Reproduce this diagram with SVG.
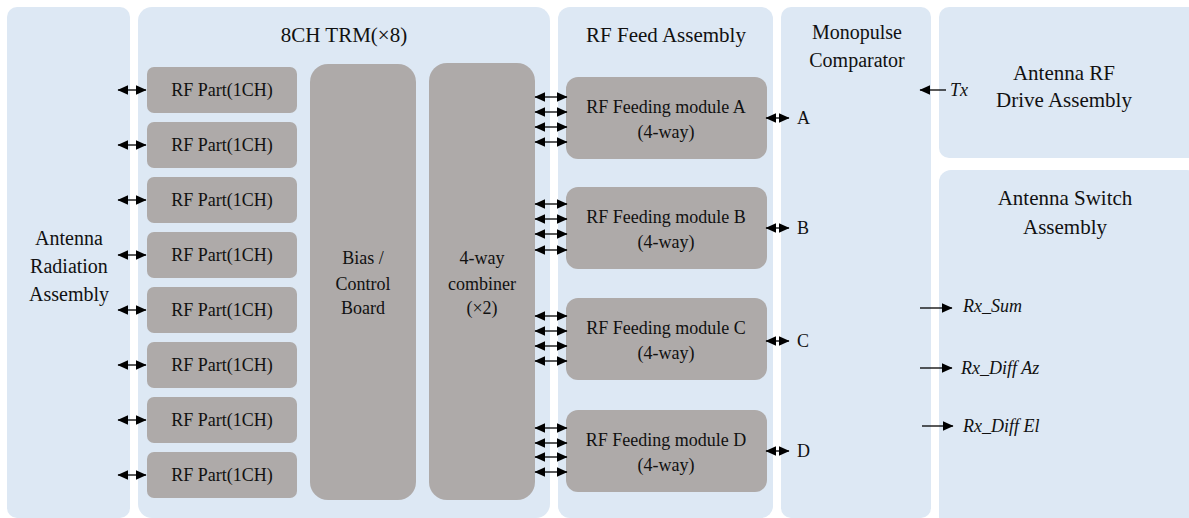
<svg xmlns="http://www.w3.org/2000/svg" width="1189" height="518" viewBox="0 0 1189 518">
<style>
.panel{fill:#dde8f4}
.box{fill:#aeaaa9}
.t18{font-size:18px}
.t20{font-size:20px}
.t21{font-size:21px}
.it{font-style:italic}
.c{text-anchor:middle}
.ln{stroke:#000;stroke-width:1.3;fill:none}
</style>
<defs>
<marker id="ah" markerUnits="userSpaceOnUse" markerWidth="11" markerHeight="11" viewBox="0 0 10 10" refX="9.5" refY="5" orient="auto-start-reverse">
<path d="M0,0.5 L10,5 L0,9.5 Z" fill="#000"/>
</marker>
</defs>
<rect width="1189" height="518" fill="#fff"/>
<g font-family="'Liberation Serif', 'Times New Roman', 'DejaVu Serif', serif" fill="#111">
<g id="panel-radiation"><rect class="panel" x="7" y="7" width="123" height="511" rx="10"/>
<text class="t20 c" x="69" y="245">Antenna</text><text class="t20 c" x="69" y="273">Radiation</text><text class="t20 c" x="69" y="301">Assembly</text></g>
<g id="panel-trm"><rect class="panel" x="138" y="7" width="412" height="511" rx="14"/>
<text class="t21 c" x="344" y="42">8CH TRM(×8)</text></g>
<g id="panel-feed"><rect class="panel" x="558" y="7" width="215" height="511" rx="12"/>
<text class="t21 c" x="666" y="42">RF Feed Assembly</text></g>
<g id="panel-monopulse"><rect class="panel" x="781" y="7" width="150" height="511" rx="10"/>
<text class="t20 c" x="857" y="39">Monopulse</text><text class="t20 c" x="857" y="67">Comparator</text></g>
<g id="panel-drive"><rect class="panel" x="939" y="7" width="260" height="151" rx="10"/>
<text class="t21 c" x="1064" y="80">Antenna RF</text><text class="t21 c" x="1064" y="107">Drive Assembly</text></g>
<g id="panel-switch"><rect class="panel" x="939" y="170" width="260" height="358" rx="12"/>
<text class="t21 c" x="1065" y="205">Antenna Switch</text><text class="t21 c" x="1065" y="234">Assembly</text></g>

<g id="rf1"><rect class="box" x="147" y="67" width="150" height="46" rx="7"/><text class="t18 c" x="222" y="96">RF Part(1CH)</text></g>
<g id="rf2"><rect class="box" x="147" y="122" width="150" height="46" rx="7"/><text class="t18 c" x="222" y="151">RF Part(1CH)</text></g>
<g id="rf3"><rect class="box" x="147" y="177" width="150" height="46" rx="7"/><text class="t18 c" x="222" y="206">RF Part(1CH)</text></g>
<g id="rf4"><rect class="box" x="147" y="232" width="150" height="46" rx="7"/><text class="t18 c" x="222" y="261">RF Part(1CH)</text></g>
<g id="rf5"><rect class="box" x="147" y="287" width="150" height="46" rx="7"/><text class="t18 c" x="222" y="316">RF Part(1CH)</text></g>
<g id="rf6"><rect class="box" x="147" y="342" width="150" height="46" rx="7"/><text class="t18 c" x="222" y="371">RF Part(1CH)</text></g>
<g id="rf7"><rect class="box" x="147" y="397" width="150" height="46" rx="7"/><text class="t18 c" x="222" y="426">RF Part(1CH)</text></g>
<g id="rf8"><rect class="box" x="147" y="452" width="150" height="46" rx="7"/><text class="t18 c" x="222" y="481">RF Part(1CH)</text></g>

<g id="bias"><rect class="box" x="310" y="64" width="106" height="436" rx="18"/>
<text class="t18 c" x="363" y="264">Bias /</text><text class="t18 c" x="363" y="290">Control</text><text class="t18 c" x="363" y="314">Board</text></g>
<g id="combiner"><rect class="box" x="429" y="63" width="106" height="437" rx="18"/>
<text class="t18 c" x="482" y="264">4-way</text><text class="t18 c" x="482" y="290">combiner</text><text class="t18 c" x="482" y="314">(×2)</text></g>

<g id="modA"><rect class="box" x="566" y="77" width="201" height="82" rx="12"/><text class="t18 c" x="666" y="113">RF Feeding module A</text><text class="t18 c" x="666" y="138">(4-way)</text></g>
<g id="modB"><rect class="box" x="566" y="187" width="201" height="82" rx="12"/><text class="t18 c" x="666" y="223">RF Feeding module B</text><text class="t18 c" x="666" y="248">(4-way)</text></g>
<g id="modC"><rect class="box" x="566" y="298" width="201" height="82" rx="12"/><text class="t18 c" x="666" y="334">RF Feeding module C</text><text class="t18 c" x="666" y="359">(4-way)</text></g>
<g id="modD"><rect class="box" x="566" y="410" width="201" height="82" rx="12"/><text class="t18 c" x="666" y="446">RF Feeding module D</text><text class="t18 c" x="666" y="471">(4-way)</text></g>

<g id="labels">
<text class="t18" x="797" y="124">A</text>
<text class="t18" x="797" y="234">B</text>
<text class="t18" x="797" y="347">C</text>
<text class="t18" x="797" y="457">D</text>
<text class="t18 it" x="950" y="96">Tx</text>
<text class="t18 it" x="963" y="312">Rx_Sum</text>
<text class="t18 it" x="961" y="374">Rx_Diff Az</text>
<text class="t18 it" x="963" y="432">Rx_Diff El</text>
</g>
</g>

<g id="connectors" class="ln" marker-start="url(#ah)" marker-end="url(#ah)">
<line x1="118" y1="90" x2="146" y2="90"/>
<line x1="118" y1="145" x2="146" y2="145"/>
<line x1="118" y1="200" x2="146" y2="200"/>
<line x1="118" y1="255" x2="146" y2="255"/>
<line x1="118" y1="310" x2="146" y2="310"/>
<line x1="118" y1="365" x2="146" y2="365"/>
<line x1="118" y1="420" x2="146" y2="420"/>
<line x1="118" y1="475" x2="146" y2="475"/>

<line x1="535" y1="97" x2="567" y2="97"/>
<line x1="535" y1="112" x2="567" y2="112"/>
<line x1="535" y1="127" x2="567" y2="127"/>
<line x1="535" y1="142" x2="567" y2="142"/>
<line x1="535" y1="204" x2="567" y2="204"/>
<line x1="535" y1="219" x2="567" y2="219"/>
<line x1="535" y1="234" x2="567" y2="234"/>
<line x1="535" y1="250" x2="567" y2="250"/>
<line x1="535" y1="316" x2="567" y2="316"/>
<line x1="535" y1="331" x2="567" y2="331"/>
<line x1="535" y1="346" x2="567" y2="346"/>
<line x1="535" y1="361" x2="567" y2="361"/>
<line x1="535" y1="428" x2="567" y2="428"/>
<line x1="535" y1="443" x2="567" y2="443"/>
<line x1="535" y1="457" x2="567" y2="457"/>
<line x1="535" y1="472" x2="567" y2="472"/>

<line x1="766" y1="118" x2="789" y2="118"/>
<line x1="766" y1="228" x2="789" y2="228"/>
<line x1="766" y1="341" x2="789" y2="341"/>
<line x1="766" y1="451" x2="789" y2="451"/>

<line x1="946" y1="90" x2="920" y2="90" marker-start="none"/>
<line x1="920" y1="308" x2="952" y2="308" marker-start="none"/>
<line x1="920" y1="368" x2="952" y2="368" marker-start="none"/>
<line x1="922" y1="426" x2="953" y2="426" marker-start="none"/>
</g>
</svg>
